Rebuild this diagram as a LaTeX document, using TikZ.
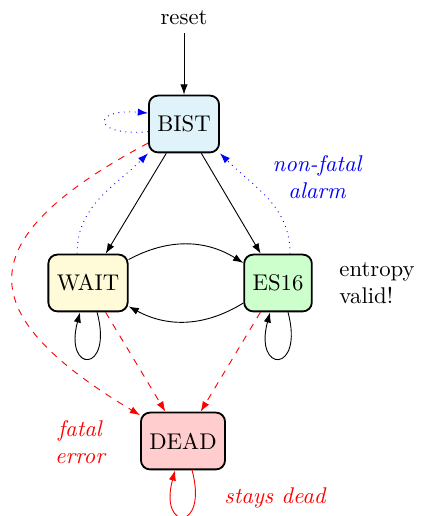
\documentclass[tikz,border=0pt]{standalone}
\usetikzlibrary{arrows.meta}
\definecolor{bistfill}{RGB}{224,243,250}
\definecolor{waitfill}{RGB}{255,250,215}
\definecolor{esfill}{RGB}{205,255,205}
\definecolor{deadfill}{RGB}{255,205,205}
\begin{document}
\begin{tikzpicture}[x=0.44pt,y=0.44pt,
  state/.style={draw,thick,rounded corners=4pt,minimum height=25pt,inner xsep=3.7pt},
  trans/.style={-{Latex[length=4.5pt,width=3.2pt]}},
  fatal/.style={trans,red,dashed},
  alarm/.style={trans,blue,dotted},
  lbl/.style={inner sep=0pt,align=center,font=\itshape},
  selfloop/.style={out=-75,in=-105,distance=28pt}]
\useasboundingbox (0,0) rectangle (420,516);
\node (reset) at (184,498) {reset};
\node[state,fill=bistfill] (BIST) at (184,392) {BIST};
\node[state,fill=waitfill] (WAIT) at (88,233) {WAIT};
\node[state,fill=esfill] (ES16) at (278,233) {ES16};
\node[state,fill=deadfill] (DEAD) at (183,75) {DEAD};
\node[inner sep=0pt,anchor=west,align=left] (entropy) at (339,233) {entropy\\valid!};
\node[lbl,text=blue] (nonfatal) at (317,339) {non-fatal\\alarm};
\node[lbl,text=red] (fatalerr) at (80,74) {fatal\\error};
\node[lbl,text=red] (stays) at (275,18) {stays dead};
\draw[trans] (reset) -- (BIST);
\draw[trans] (BIST) -- (WAIT);
\draw[trans] (BIST) -- (ES16);
\draw[trans] (WAIT) to[bend left=30] (ES16);
\draw[trans] (ES16) to[bend left=30] (WAIT);
\draw[trans] ([xshift=4pt]WAIT.south) to[selfloop] ([xshift=-3.5pt]WAIT.south);
\draw[trans] ([xshift=4.4pt]ES16.south) to[selfloop] ([xshift=-3.5pt]ES16.south);
\draw[trans,red] ([xshift=4pt]DEAD.south) to[selfloop] ([xshift=-3.5pt]DEAD.south);
\draw[fatal] (WAIT) -- (DEAD);
\draw[fatal] (ES16) -- (DEAD);
\draw[fatal] (BIST) to[out=208,in=149,out distance=92pt,in distance=85pt] (DEAD);
\draw[alarm] ([xshift=-4.8pt]WAIT.north) to[out=90,in=225] (BIST.south west);
\draw[alarm] ([xshift=5.3pt]ES16.north) to[out=90,in=-45] (BIST.south east);
\draw[alarm] ([yshift=-3.4pt]BIST.west) to[out=185,in=175,distance=25pt] ([yshift=4.8pt]BIST.west);
\end{tikzpicture}
\end{document}
